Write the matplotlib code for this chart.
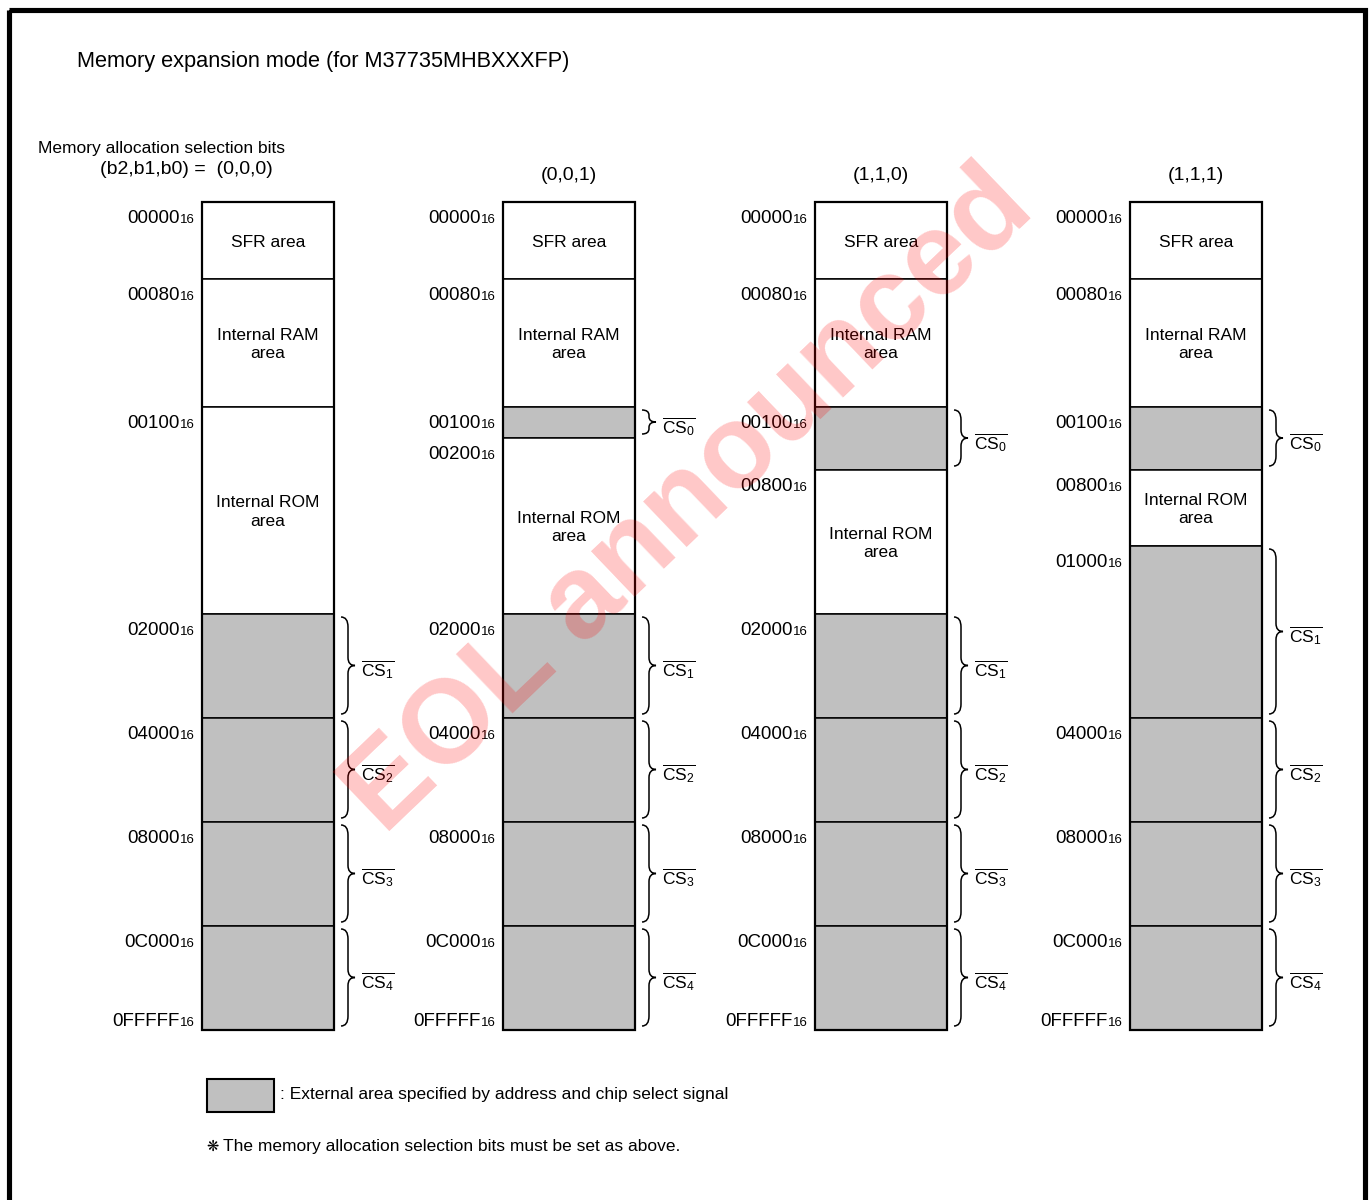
import numpy as np
import matplotlib
matplotlib.use("Agg")
import matplotlib.pyplot as plt
from matplotlib.path import Path
from matplotlib.patches import PathPatch, Rectangle

plt.rcParams['font.family'] = ['Liberation Sans', 'DejaVu Sans']
plt.rcParams['mathtext.fontset'] = 'custom'
plt.rcParams['mathtext.rm'] = 'Liberation Sans'
plt.rcParams['mathtext.it'] = 'Liberation Sans:italic'
plt.rcParams['mathtext.bf'] = 'Liberation Sans:bold'

# ---------------- data ----------------
TITLE = "Memory expansion mode (for M37735MHBXXXFP)"
SELECT_CAPTION = "Memory allocation selection bits"
SELECT_PREFIX = "(b2,b1,b0) =  "
SELECT_BITS = ["(0,0,0)", "(0,0,1)", "(1,1,0)", "(1,1,1)"]

BOUNDS = [
    [0x000000, 0x000080, 0x001000, 0x020000, 0x040000, 0x080000, 0x0C0000, 0x100000],
    [0x000000, 0x000080, 0x001000, 0x002000, 0x020000, 0x040000, 0x080000, 0x0C0000, 0x100000],
    [0x000000, 0x000080, 0x001000, 0x008000, 0x020000, 0x040000, 0x080000, 0x0C0000, 0x100000],
    [0x000000, 0x000080, 0x001000, 0x008000, 0x010000, 0x040000, 0x080000, 0x0C0000, 0x100000],
]
AREAS = [
    ["SFR", "RAM", "ROM", "CS1", "CS2", "CS3", "CS4"],
    ["SFR", "RAM", "CS0", "ROM", "CS1", "CS2", "CS3", "CS4"],
    ["SFR", "RAM", "CS0", "ROM", "CS1", "CS2", "CS3", "CS4"],
    ["SFR", "RAM", "CS0", "ROM", "CS1", "CS2", "CS3", "CS4"],
]
AREA_TEXT = {"SFR": "SFR area", "RAM": "Internal RAM\narea", "ROM": "Internal ROM\narea"}
ADDR_TEXT = {0x000000: "00000", 0x000080: "00080", 0x001000: "00100", 0x002000: "00200",
             0x008000: "00800", 0x010000: "01000", 0x020000: "02000", 0x040000: "04000",
             0x080000: "08000", 0x0C0000: "0C000"}
END_TEXT = "0FFFFF"
RADIX = "16"
LEGEND_TEXT = ": External area specified by address and chip select signal"
NOTE_MARK = "\u274B"
NOTE_TEXT = "The memory allocation selection bits must be set as above."
WATERMARK = "EOL announced"

# ---------------- layout / style ----------------
W, H = 1369, 1200
GREY = "#C0C0C0"
COL_LEFT = [202, 503, 815, 1130]
BOX_W = 132
# schematic (non-linear) address scale: address knots -> drawing rows
AK = np.array([0x000000, 0x000080, 0x001000, 0x002000, 0x008000, 0x010000,
               0x020000, 0x040000, 0x080000, 0x0C0000, 0x100000], float)
RK = np.array([202, 279, 407, 438, 470, 546, 614, 718, 822, 926, 1030], float)


def _pw(x, xs, ys):
    x = np.asarray(x, float)
    out = np.interp(x, xs, ys)
    lo_s = (ys[1] - ys[0]) / (xs[1] - xs[0])
    hi_s = (ys[-1] - ys[-2]) / (xs[-1] - xs[-2])
    out = np.where(x < xs[0], ys[0] + (x - xs[0]) * lo_s, out)
    out = np.where(x > xs[-1], ys[-1] + (x - xs[-1]) * hi_s, out)
    return out


def fwd(a):
    return _pw(a, AK, RK)


def inv(r):
    return _pw(r, RK, AK)


fig = plt.figure(figsize=(W / 100, H / 100), dpi=100)
ax_page = fig.add_axes([0, 0, 1, 1])
ax_page.set_xlim(0, W)
ax_page.set_ylim(H, 0)
ax_page.axis('off')

ax = fig.add_axes([0, (H - RK[-1]) / H, 1, (RK[-1] - RK[0]) / H])
ax.set_yscale('function', functions=(fwd, inv))
ax.set_xlim(0, W)
ax.axis('off')

# page frame
ax_page.add_patch(Rectangle((8.5, 9.5), 1356, 1220, fill=False, edgecolor='black',
                            linewidth=3.7, clip_on=True))

ax_page.text(77, 61, TITLE, ha='left', va='center', fontsize=15.7)


def brace(x_right, r0, r1):
    x0, xb, xt = x_right + 7, x_right + 14, x_right + 21
    h = r1 - r0
    re = min(10.0, h / 4.5)
    rm = min(8.0, h / 4.5)
    ym = (r0 + r1) / 2
    verts = [(x0, r0), (xb, r0), (xb, r0 + re),
             (xb, ym - rm), (xb, ym), (xt, ym),
             (xb, ym), (xb, ym + rm),
             (xb, r1 - re), (xb, r1), (x0, r1)]
    codes = [Path.MOVETO, Path.CURVE3, Path.CURVE3,
             Path.LINETO, Path.CURVE3, Path.CURVE3,
             Path.CURVE3, Path.CURVE3,
             Path.LINETO, Path.CURVE3, Path.CURVE3]
    v = np.array(verts, float)
    v[:, 1] = inv(v[:, 1])
    return PathPatch(Path(v, codes), fill=False, edgecolor='black', linewidth=1.1,
                     clip_on=False)


ADDR_FS = 13.5
RADIX_FS = 9.5
ADDR_DX = -22

for i, (bounds, areas) in enumerate(zip(BOUNDS, AREAS)):
    left = COL_LEFT[i]
    cx = left + BOX_W / 2
    right = left + BOX_W
    starts = np.array(bounds[:-1], float)
    ends = np.array(bounds[1:], float)
    colors = [GREY if a.startswith("CS") else "white" for a in areas]
    ax.bar([cx] * len(starts), ends - starts, bottom=starts, width=BOX_W,
           color=colors, edgecolor='black', linewidth=1.1, clip_on=False)
    ax.bar([cx], [bounds[-1] - bounds[0]], bottom=[bounds[0]], width=BOX_W,
           fill=False, edgecolor='black', linewidth=1.6, clip_on=False, zorder=3)

    for s, e, a in zip(starts, ends, areas):
        mid = inv((fwd(s) + fwd(e)) / 2)
        if a in AREA_TEXT:
            ax.annotate(AREA_TEXT[a], xy=(cx, mid), xytext=(0, -1.5),
                        textcoords='offset pixels', ha='center', va='center',
                        fontsize=12.5, linespacing=1.3, annotation_clip=False)
        else:
            ax.add_patch(brace(right, float(fwd(s)) + 3, float(fwd(e)) - 4))
            lab = r'$\overline{\mathrm{CS}_{%s}}$' % a[2:]
            ax.annotate(lab, xy=(right, mid), xytext=(27, -4), textcoords='offset pixels',
                        ha='left', va='center', fontsize=12.5, annotation_clip=False)
        # start address label
        ax.annotate(ADDR_TEXT[int(s)], xy=(left, s), xytext=(ADDR_DX, -21),
                    textcoords='offset pixels', ha='right', va='baseline',
                    fontsize=ADDR_FS, annotation_clip=False)
        ax.annotate(RADIX, xy=(left, s), xytext=(ADDR_DX, -21),
                    textcoords='offset pixels', ha='left', va='baseline',
                    fontsize=RADIX_FS, annotation_clip=False)
    # end address label
    ax.annotate(END_TEXT, xy=(left, bounds[-1]), xytext=(ADDR_DX, 3.5),
                textcoords='offset pixels', ha='right', va='baseline',
                fontsize=ADDR_FS, annotation_clip=False)
    ax.annotate(RADIX, xy=(left, bounds[-1]), xytext=(ADDR_DX, 3.5),
                textcoords='offset pixels', ha='left', va='baseline',
                fontsize=RADIX_FS, annotation_clip=False)

    # header
    if i == 0:
        ax.annotate(SELECT_PREFIX + SELECT_BITS[i], xy=(cx, bounds[0]), xytext=(5, 33),
                    textcoords='offset pixels', ha='right', va='center', fontsize=14,
                    annotation_clip=False)
    else:
        ax.annotate(SELECT_BITS[i], xy=(cx, bounds[0]), xytext=(0, 27),
                    textcoords='offset pixels', ha='center', va='center', fontsize=14,
                    annotation_clip=False)

ax.set_ylim(BOUNDS[0][-1], BOUNDS[0][0])

ax_page.text(38, 149, SELECT_CAPTION, ha='left', va='center', fontsize=12.5)

# legend
ax_page.add_patch(Rectangle((207, 1079), 67, 33, facecolor=GREY, edgecolor='black',
                            linewidth=1.5))
ax_page.text(280, 1095, LEGEND_TEXT, ha='left', va='center', fontsize=12.5)
ax_page.text(206, 1146, NOTE_MARK, ha='left', va='center', fontsize=10.5,
             family=['DejaVu Sans'])
ax_page.text(223, 1146, NOTE_TEXT, ha='left', va='center', fontsize=12.5)

# watermark (on top of everything)
fig.text(690 / W, 1 - 502 / H, WATERMARK, rotation=43.7, ha='center', va='center',
         fontsize=85, fontweight='bold', color='red', alpha=0.22, zorder=10)

fig.savefig("out.png", dpi=100)
